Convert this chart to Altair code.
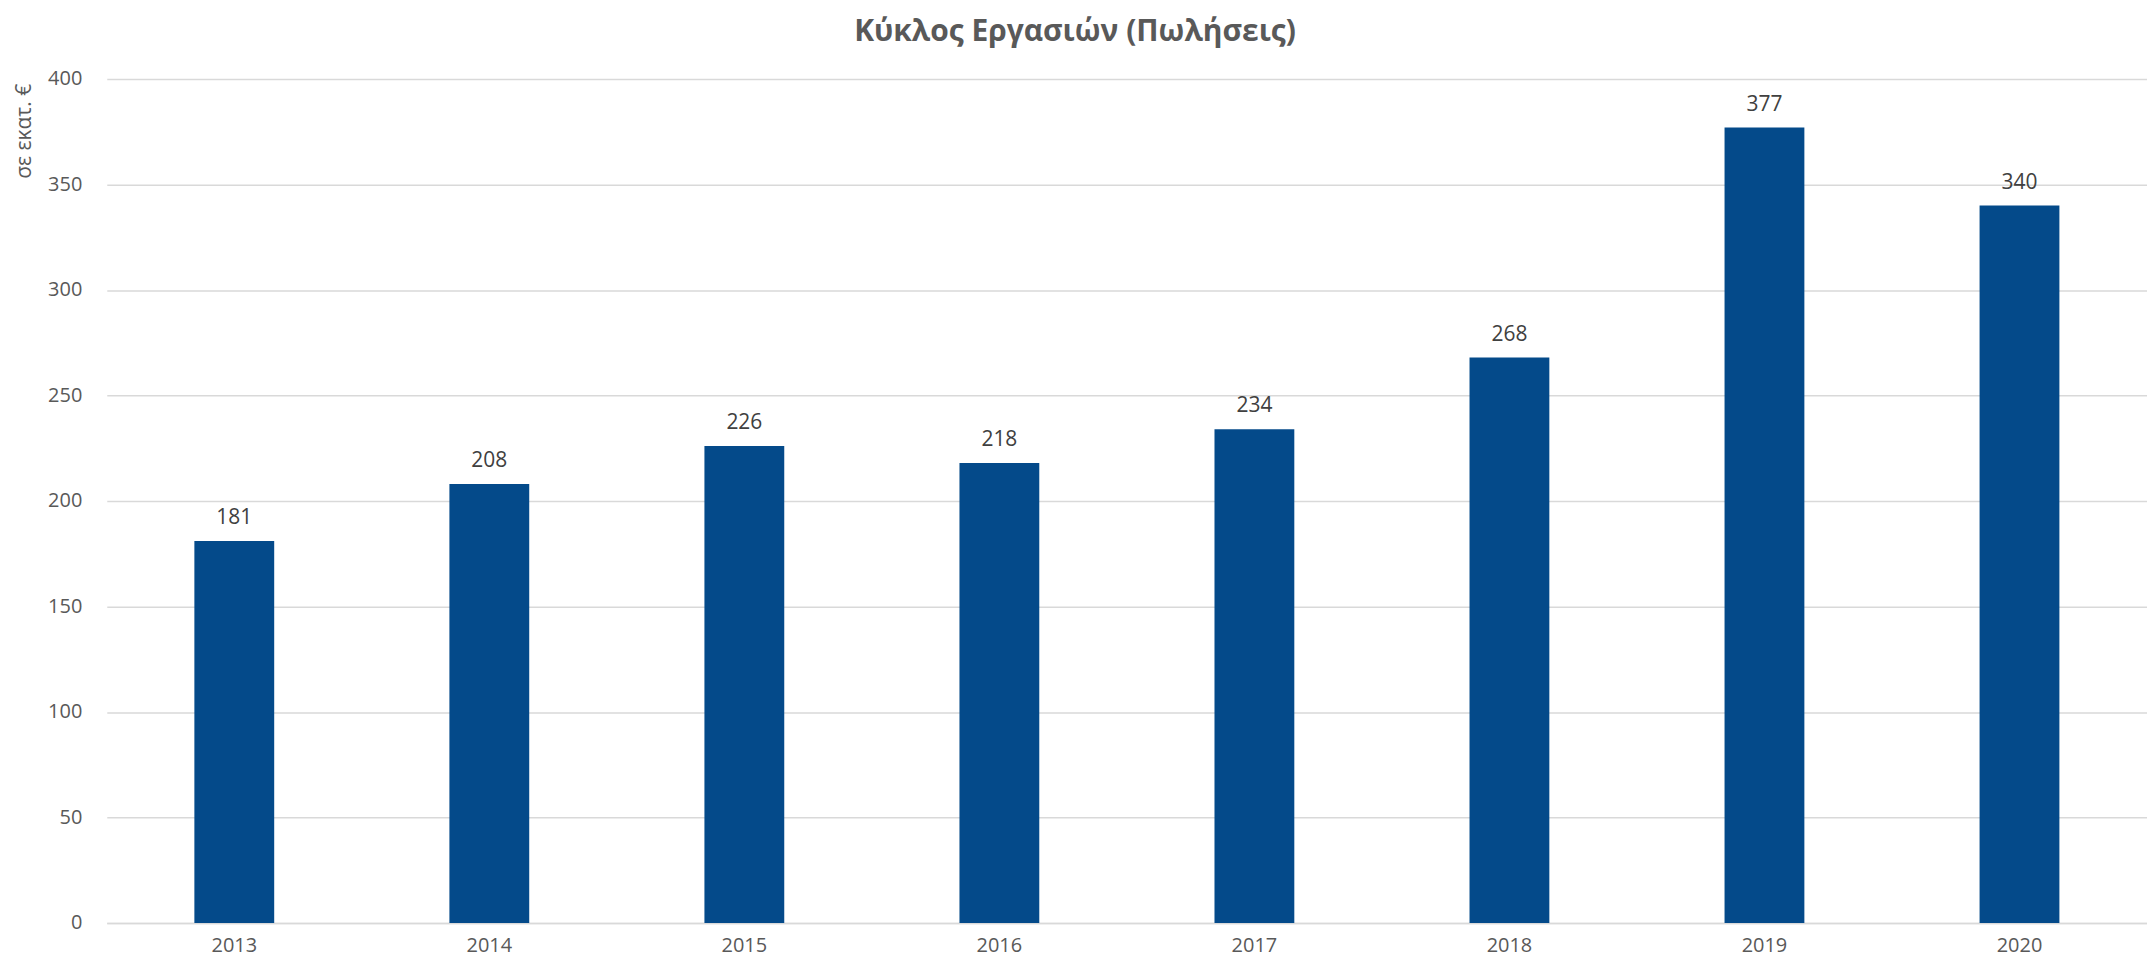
import altair as alt
import pandas as pd

years = ["2013", "2014", "2015", "2016", "2017", "2018", "2019", "2020"]
sales = [181, 208, 226, 218, 234, 268, 377, 340]
y_ticks = [0, 50, 100, 150, 200, 250, 300, 350, 400]

df = pd.DataFrame({"year": years, "sales": sales})

FONT = "Open Sans"
GREY = "#595959"

x = alt.X(
    "year:N",
    sort=years,
    title=None,
    scale=alt.Scale(paddingInner=0.687, paddingOuter=0.3435),
    axis=alt.Axis(
        labelAngle=0,
        labelFont=FONT,
        labelFontSize=20,
        labelColor=GREY,
        labelPadding=13,
        ticks=False,
        domain=True,
        domainColor="#d9d9d9",
        domainWidth=1.5,
        grid=False,
    ),
)

y = alt.Y(
    "sales:Q",
    scale=alt.Scale(domain=[0, 400], nice=False),
    axis=alt.Axis(
        values=y_ticks,
        title="σε εκατ. €",
        titleFont=FONT,
        titleFontSize=21,
        titleFontWeight="normal",
        titleColor=GREY,
        titleAngle=270,
        titleX=-82,
        titleY=52,
        titleAlign="center",
        titleBaseline="middle",
        labelFont=FONT,
        labelFontSize=20,
        labelColor=GREY,
        labelPadding=25,
        ticks=False,
        domain=False,
        grid=True,
        gridColor="#d9d9d9",
        gridWidth=1.5,
    ),
)

bars = alt.Chart(df).mark_bar(color="#044a8a").encode(x=x, y=y)

labels = alt.Chart(df).mark_text(
    font=FONT, fontSize=21, color="#404040", baseline="alphabetic", dy=-17
).encode(x=alt.X("year:N", sort=years), y="sales:Q", text="sales:Q")

chart = (
    alt.layer(bars, labels)
    .properties(
        width=2045,
        height=846,
        title=alt.TitleParams(
            "Κύκλος Εργασιών (Πωλήσεις)",
            font=FONT,
            fontSize=30,
            fontWeight="bold",
            color=GREY,
            anchor="middle",
            dx=-52,
            offset=22,
        ),
        autosize=alt.AutoSizeParams(type="none"),
        padding={"left": 99, "top": 70, "right": 0, "bottom": 35},
    )
    .configure_view(stroke=None)
)

chart.save("out.html", embed_options={"renderer": "svg", "actions": False})
